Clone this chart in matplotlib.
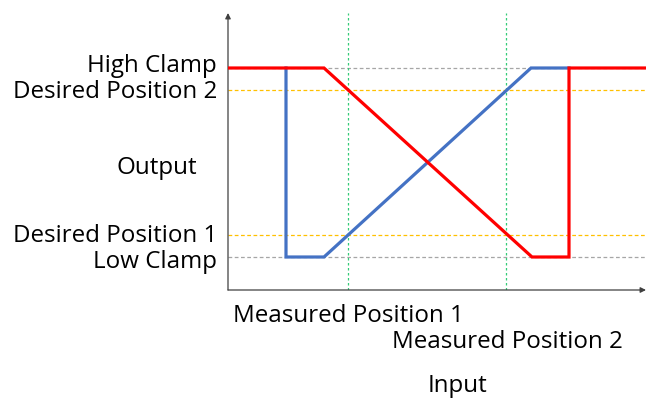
import matplotlib.pyplot as plt
from matplotlib.transforms import blended_transform_factory

# data in chart units (input along x, output along y)
red_x = [0, 96, 304, 341, 341, 418]
red_y = [222, 222, 33, 33, 222, 222]
blue_x = [58, 58, 96, 303, 341]
blue_y = [222, 33, 33, 222, 222]

measured_x = [120, 278]
measured_labels = ["Measured Position 1", "Measured Position 2"]
clamp_y = [222, 33]
clamp_labels = ["High Clamp", "Low Clamp"]
desired_y = [200, 55]
desired_labels = ["Desired Position 2", "Desired Position 1"]

plt.rcParams['font.family'] = ['Open Sans', 'DejaVu Sans']
fig = plt.figure(figsize=(6.5, 3.98), dpi=100)
W, H = 650, 398
ax = fig.add_axes([228 / W, (H - 290) / H, 418 / W, 277 / H])
ax.set_xlim(0, 418)
ax.set_ylim(0, 277)
for s in ax.spines.values():
    s.set_visible(False)
ax.set_xticks([])
ax.set_yticks([])

# reference lines
for y in clamp_y:
    ax.axhline(y, color="#a6a6a6", lw=0.9, ls=(0, (3, 2)), zorder=1)
for y in desired_y:
    ax.axhline(y, color="#ffc000", lw=0.9, ls=(0, (3, 2)), zorder=1)
for x in measured_x:
    ax.axvline(x, color="#33cc77", lw=0.9, ls=(0, (2, 2)), zorder=1)

ax.plot(blue_x, blue_y, color="#4472c4", lw=2.3, zorder=3, solid_joinstyle="miter")
ax.plot(red_x, red_y, color="#ff0000", lw=2.3, zorder=4, solid_joinstyle="miter")

# axes with arrows
ax.annotate("", xy=(0, 277), xytext=(0, 0),
            arrowprops=dict(arrowstyle="-|>", color="#404040", lw=0.9, mutation_scale=8, shrinkA=0, shrinkB=0))
ax.annotate("", xy=(418, 0), xytext=(0, 0),
            arrowprops=dict(arrowstyle="-|>", color="#404040", lw=0.9, mutation_scale=8, shrinkA=0, shrinkB=0))

fs = 17.4
# y labels
tr = blended_transform_factory(fig.transFigure, ax.transData)
for y, lab, off in zip(clamp_y, clamp_labels, [2, -5]):
    ax.text(217 / W, y + off, lab, transform=tr, ha="right", va="center", fontsize=fs)
for y, lab, off in zip(desired_y, desired_labels, [-2, -1]):
    ax.text(217 / W, y + off, lab, transform=tr, ha="right", va="center", fontsize=fs)
fig.text(157 / W, 1 - 168 / H, "Output", ha="center", va="center", fontsize=fs)

# x labels
fig.text(233 / W, 1 - 316 / H, measured_labels[0], ha="left", va="center", fontsize=fs)
fig.text(392 / W, 1 - 342 / H, measured_labels[1], ha="left", va="center", fontsize=fs)
fig.text(457 / W, 1 - 386 / H, "Input", ha="center", va="center", fontsize=fs)

fig.savefig("out.png", dpi=100)
